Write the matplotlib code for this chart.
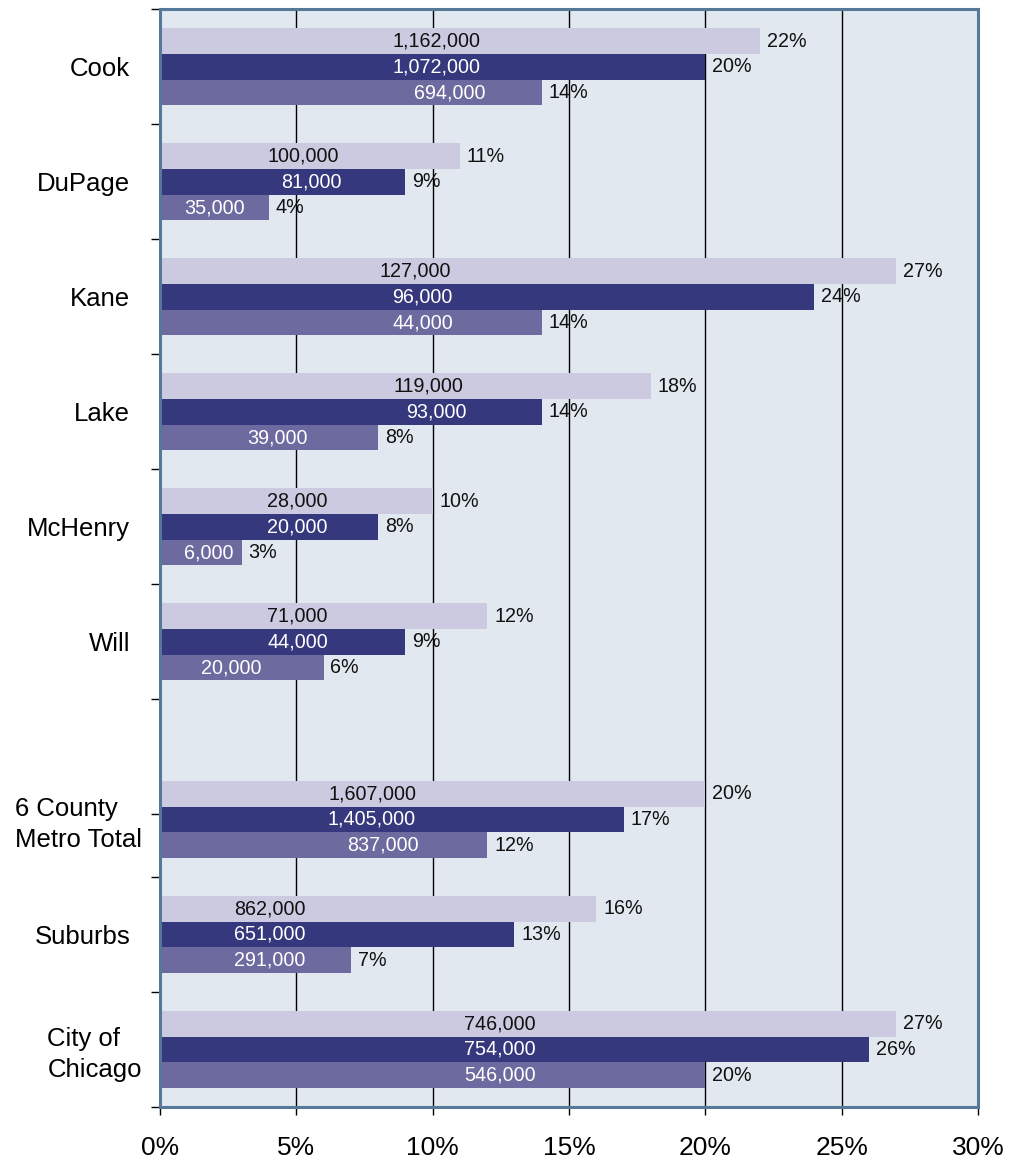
#!/usr/bin/env python3
"""Horizontal grouped bars: share of population by county, three series."""

import matplotlib as mpl
import matplotlib.pyplot as plt
import numpy as np

CATEGORIES = ["Cook", "DuPage", "Kane", "Lake", "McHenry", "Will",
              "6 County\nMetro Total", "Suburbs", "City of\nChicago"]

# percent shares (bar lengths) per series
PCT_LIGHT = [22, 11, 27, 18, 10, 12, 20, 16, 27]
PCT_DARK = [20, 9, 24, 14, 8, 9, 17, 13, 26]
PCT_MID = [14, 4, 14, 8, 3, 6, 12, 7, 20]

# counts shown inside the bars
CNT_LIGHT = [1162000, 100000, 127000, 119000, 28000, 71000, 1607000, 862000, 746000]
CNT_DARK = [1072000, 81000, 96000, 93000, 20000, 44000, 1405000, 651000, 754000]
CNT_MID = [694000, 35000, 44000, 39000, 6000, 20000, 837000, 291000, 546000]

XTICKS = [0, 5, 10, 15, 20, 25, 30]

# right edge (in %) where the count labels sit
LBL_LIGHT = [11.77, 6.56, 10.67, 11.11, 6.16, 6.16, 9.39, 5.35, 13.79]
LBL_DARK = [11.77, 6.67, 10.74, 11.26, 6.16, 6.16, 9.39, 5.35, 13.79]
LBL_MID = [11.95, 3.12, 10.74, 5.43, 2.71, 3.74, 9.50, 5.35, 13.79]

C_LIGHT = "#CBCAE0"
C_DARK = "#36387E"
C_MID = "#6C6A9F"
BG = "#E2E8F0"
FRAME = "#56799A"


def main() -> None:
    mpl.rcParams["font.family"] = ["Liberation Sans", "DejaVu Sans"]

    fig = plt.figure(figsize=(10.21, 11.63), dpi=100)
    ax = fig.add_axes([0.1567, 0.0482, 0.8012, 0.9441])
    ax.set_facecolor(BG)

    gap = 0.545
    y = np.array([i if i < 6 else i + gap for i in range(len(CATEGORIES))], dtype=float)
    h = 0.2235

    series = [
        (PCT_LIGHT, CNT_LIGHT, LBL_LIGHT, C_LIGHT, "#111111", -h),
        (PCT_DARK, CNT_DARK, LBL_DARK, C_DARK, "white", 0.0),
        (PCT_MID, CNT_MID, LBL_MID, C_MID, "white", h),
    ]
    for pct, cnt, lbl, color, tcolor, off in series:
        ax.barh(y + off, pct, height=h, color=color, linewidth=0, zorder=2)
        for i, (p, c, lx) in enumerate(zip(pct, cnt, lbl)):
            ax.text(lx, y[i] + off, f"{c:,}", ha="right", va="center",
                    fontsize=14.2, color=tcolor, zorder=3)
            ax.text(p + 0.25, y[i] + off, f"{p}%", ha="left", va="center",
                    fontsize=14.2, color="#111111", zorder=3)

    ax.set_xlim(0, 30)
    ax.set_ylim(y[-1] + 0.5, -0.504)
    ax.set_xticks(XTICKS)
    ax.set_xticklabels([f"{t}%" for t in XTICKS], fontsize=19)
    ax.tick_params(axis="x", length=6, width=1, color="black", pad=15)
    ax.grid(axis="x", color="black", linewidth=1.0, zorder=1)
    ax.set_axisbelow(True)

    # category names, multi-line ones sit a little closer to the frame
    ax.set_yticks([])
    for yc, name in zip(y, CATEGORIES):
        if "\n" in name:
            dx, dy = -13, -3.5
        else:
            dx, dy = -21.5, -1.5
        ax.annotate(name, xy=(0, yc), xycoords=("axes fraction", "data"),
                    xytext=(dx, dy), textcoords="offset points",
                    ha="right", va="center", multialignment="left",
                    fontsize=18.5, linespacing=1.4)

    minor = list(np.arange(-0.5, 6.0, 1.0)) + [6.5] + list(y[6:] + 0.5)
    ax.set_yticks(minor, minor=True)
    ax.tick_params(axis="y", which="minor", length=6.5, width=1, color="black")

    for side in ["top", "right", "left", "bottom"]:
        ax.spines[side].set_color(FRAME)
        ax.spines[side].set_linewidth(2.2)
        ax.spines[side].set_zorder(4)

    fig.savefig("out.png", dpi=100)


if __name__ == "__main__":
    main()
